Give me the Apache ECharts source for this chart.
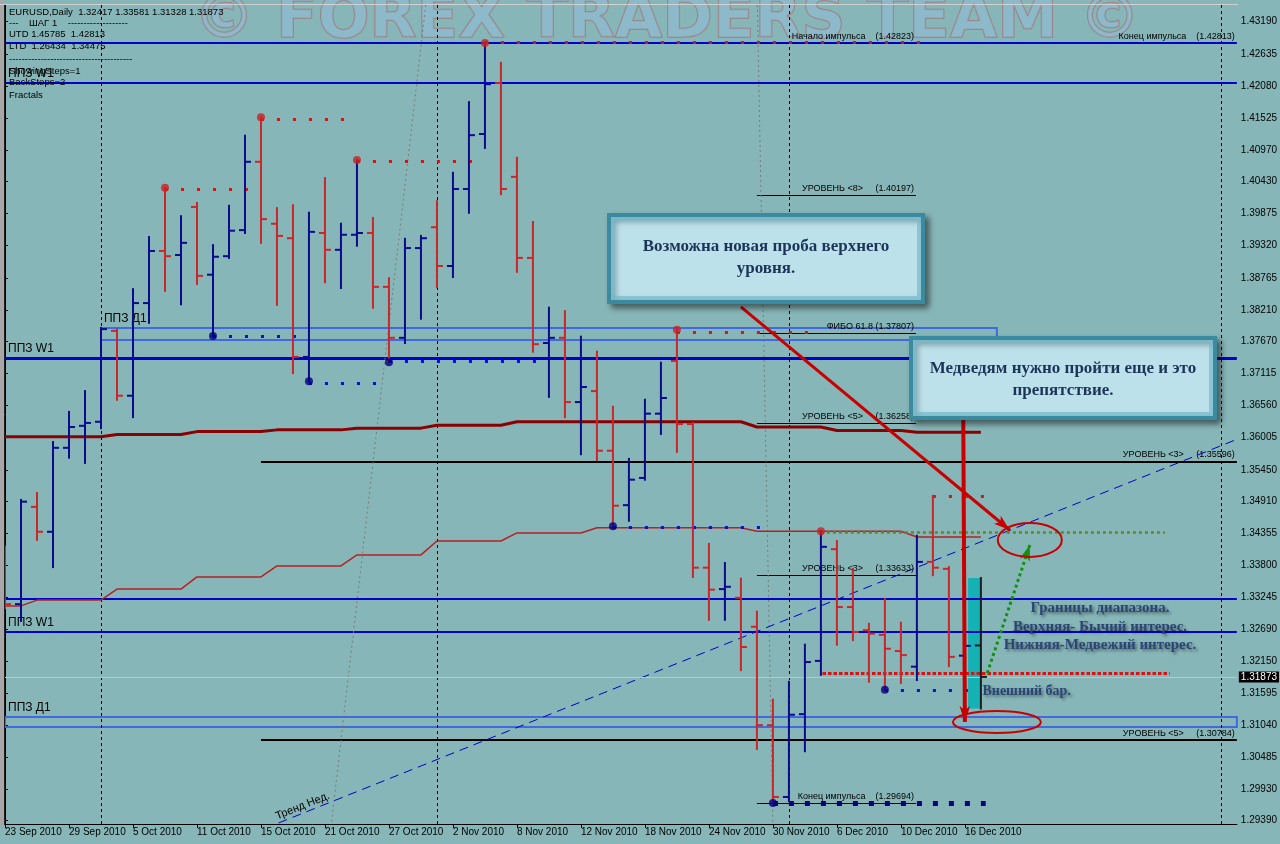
<!DOCTYPE html>
<html><head><meta charset="utf-8">
<script src="https://cdn.jsdelivr.net/npm/echarts@6/dist/echarts.min.js"></script>
<style>html,body{margin:0;padding:0;background:#87b6b8}#c{width:1280px;height:844px}</style>
</head><body><div id="c"></div>
<script>
// ---------- data ----------
const dates = ['23 Sep','24 Sep','27 Sep','28 Sep','29 Sep','30 Sep','1 Oct','4 Oct','5 Oct','6 Oct','7 Oct','8 Oct','11 Oct','12 Oct','13 Oct','14 Oct','15 Oct','18 Oct','19 Oct','20 Oct','21 Oct','22 Oct','25 Oct','26 Oct','27 Oct','28 Oct','29 Oct','1 Nov','2 Nov','3 Nov','4 Nov','5 Nov','8 Nov','9 Nov','10 Nov','11 Nov','12 Nov','15 Nov','16 Nov','17 Nov','18 Nov','19 Nov','22 Nov','23 Nov','24 Nov','25 Nov','26 Nov','29 Nov','30 Nov','1 Dec','2 Dec','3 Dec','6 Dec','7 Dec','8 Dec','9 Dec','10 Dec','13 Dec','14 Dec','15 Dec','16 Dec','17 Dec'];
const openP = [1.3389,1.3313,1.3481,1.3438,1.3583,1.3621,1.3628,1.3785,1.3673,1.3833,
  1.3923,1.3916,1.3999,1.3882,1.3914,1.3959,1.4077,1.3970,1.3945,1.3740,
  1.3954,1.3925,1.3951,1.3954,1.3861,1.3773,1.3928,1.3964,1.3897,1.4030,
  1.4125,1.4213,1.4051,1.3911,1.3764,1.3773,1.3662,1.3681,1.3578,1.3484,
  1.3531,1.3642,1.3733,1.3624,1.3376,1.3339,1.3324,1.3274,1.3104,1.2980,
  1.3123,1.3215,1.3408,1.3308,1.3268,1.3260,1.3232,1.3205,1.3386,1.3374,
  1.3224,1.32417];
const highP = [1.3412,1.3493,1.3505,1.3593,1.3645,1.3681,1.3790,1.3787,1.3857,1.3947,
  1.4032,1.3983,1.4006,1.3933,1.4001,1.4122,1.4154,1.3997,1.4002,1.3989,
  1.4049,1.3970,1.4080,1.3980,1.3876,1.3944,1.3949,1.4009,1.4058,1.4180,
  1.4282,1.4248,1.4084,1.3973,1.3825,1.3819,1.3775,1.3749,1.3654,1.3564,
  1.3666,1.3730,1.3787,1.3626,1.3417,1.3384,1.3357,1.3300,1.3148,1.3179,
  1.3243,1.3439,1.3422,1.3374,1.3279,1.3322,1.3281,1.3431,1.3500,1.3377,
  1.3265,1.33581];
const lowP = [1.3306,1.3284,1.3424,1.3377,1.3566,1.3557,1.3617,1.3666,1.3636,1.3799,
  1.3854,1.3831,1.3866,1.3776,1.3911,1.3954,1.3937,1.3830,1.3712,1.3698,
  1.3869,1.3859,1.3932,1.3825,1.3731,1.3764,1.3806,1.3861,1.3878,1.3989,
  1.4101,1.4021,1.3887,1.3749,1.3671,1.3636,1.3572,1.3562,1.34475,1.3457,
  1.3528,1.3607,1.3576,1.3360,1.3286,1.3286,1.3199,1.3063,1.29694,1.2973,
  1.3059,1.3191,1.3243,1.3251,1.3179,1.3165,1.3177,1.3182,1.3363,1.3206,
  1.3182,1.31328];
const closeP = [1.3313,1.3490,1.3438,1.3583,1.3619,1.3626,1.3788,1.3673,1.3833,1.3923,
  1.3914,1.3937,1.3880,1.3913,1.3958,1.4077,1.3978,1.3949,1.3740,1.3956,
  1.3925,1.3951,1.3954,1.3861,1.3773,1.3928,1.3945,1.3897,1.4030,1.4123,
  1.4211,1.4030,1.3911,1.3762,1.3773,1.3662,1.3688,1.3578,1.3483,1.3528,
  1.3642,1.3669,1.3624,1.3376,1.3338,1.3343,1.3239,1.3104,1.2980,1.3122,
  1.3213,1.3412,1.3308,1.3265,1.3262,1.3236,1.3225,1.3386,1.3376,1.3222,
  1.3241,1.31873];
// dark red (upper) and red (lower) indicator lines
const ppzUpper = [1.3602,1.3602,1.3602,1.3602,1.3602,1.3602,1.3602,1.3606,1.3606,1.3606,
  1.3606,1.3606,1.3611,1.3611,1.3611,1.3611,1.3611,1.3614,1.3614,1.3614,
  1.3614,1.3614,1.3617,1.3617,1.3617,1.3617,1.3617,1.3622,1.3622,1.3622,
  1.3622,1.3622,1.3628,1.3628,1.3628,1.3628,1.3628,1.3628,1.3628,1.3628,
  1.3628,1.3628,1.3628,1.3628,1.3628,1.3628,1.3628,1.3619,1.3619,1.3619,
  1.3619,1.3619,1.3613,1.3613,1.3613,1.3613,1.3613,1.3610,1.3610,1.3610,
  1.3610,1.3610];
const ppzLower = [1.3310,1.3310,1.3320,1.3320,1.3320,1.3320,1.3320,1.3339,1.3339,1.3339,
  1.3339,1.3339,1.3360,1.3360,1.3360,1.3360,1.3360,1.3379,1.3379,1.3379,
  1.3379,1.3379,1.3398,1.3398,1.3398,1.3398,1.3398,1.3422,1.3422,1.3422,
  1.3422,1.3422,1.3436,1.3436,1.3436,1.3436,1.3436,1.3445,1.3445,1.3445,
  1.3445,1.3445,1.3445,1.3445,1.3445,1.3445,1.3445,1.3439,1.3439,1.3439,
  1.3439,1.3439,1.3439,1.3439,1.3439,1.3439,1.3439,1.3429,1.3429,1.3429,
  1.3429,1.3429];
const fractalHighIdx = [10,16,22,30,42,51];
const fractalLowIdx = [13,19,24,38,48,55];
// [startIndex, endIndex, price]
const redFractalLines = [[10,15,1.4030],[16,21,1.4151],[22,29,1.4078],[30,57,1.42840],[42,50,1.3783],[58,61,1.3500]];
const blueFractalLines = [[13,18,1.3776],[19,23,1.3695],[24,33,1.3733],[38,47,1.3446],[55,60,1.3164]];
const impulseEndLine = [48,61,1.29694];
const oldRedLine = [0,29,1.3334];
const rangeRedLine = [51.1,72.8,1.3194];
const greenFractalLine = [51,72.5,1.3437];
const blueLevels = [1.42823,1.42131,1.37382,1.33230,1.32650];
const shortLevels = [
  [1.42823,'Начало импульса    (1.42823)'],
  [1.40197,'УРОВЕНЬ <8>     (1.40197)'],
  [1.37807,'ФИБО 61.8 (1.37807)'],
  [1.36258,'УРОВЕНЬ <5>     (1.36258)'],
  [1.33633,'УРОВЕНЬ <3>     (1.33633)'],
  [1.29694,'Конец импульса    (1.29694)']
];
const longLevels = [[1.35596,'УРОВЕНЬ <3>     (1.35596)'],[1.30784,'УРОВЕНЬ <5>     (1.30784)']];
const ppzD1Upper = [6,62,1.37900,1.37693];
const ppzD1Lower = [0,77,1.31182,1.31009];
const outsideBarBox = [60.2,60.95,1.33581,1.31328];
const trendLine = [17.1,1.29351,77,1.35976];
const lastPrice = 1.31873;
const vLines = [6,27,49,76];
const yTicks = [1.43190,1.42635,1.42080,1.41525,1.40970,1.40430,1.39875,1.39320,1.38765,1.38210,1.37670,1.37115,1.36560,1.36005,1.35450,1.34910,1.34355,1.33800,1.33245,1.32690,1.32150,1.31595,1.31040,1.30485,1.29930,1.29390];
const xTickIdx = [0,4,8,12,16,20,24,28,32,36,40,44,48,52,56,60];
const xTickLabels = ['23 Sep 2010','29 Sep 2010','5 Oct 2010','11 Oct 2010','15 Oct 2010','21 Oct 2010','27 Oct 2010','2 Nov 2010','8 Nov 2010','12 Nov 2010','18 Nov 2010','24 Nov 2010','30 Nov 2010','6 Dec 2010','10 Dec 2010','16 Dec 2010'];
const infoLines = ['EURUSD,Daily  1.32417 1.33581 1.31328 1.31873','---    ШАГ 1    -------------------','UTD 1.45785  1.42813','LTD  1.26434  1.34475','---------------------------------------','ShowingSteps=1','BackSteps=2','Fractals'];

// ---------- chart ----------
const chart = echarts.init(document.getElementById('c'));
const BULL='#0b0b8c', BEAR='#c8282a', LAST='#1c1c1c';
const ohlc = dates.map((d,i)=>[i,openP[i],closeP[i],lowP[i],highP[i]]);
const FONT='Liberation Sans';

function hl(a,b,p,style,label){ // horizontal segment
  const s={coord:[a,p], lineStyle:style};
  if(label) s.label=label;
  return [s,{coord:[b,p]}];
}
const lvlLabel = (t)=>({show:true,position:'insideEndTop',formatter:t,fontSize:9,fontFamily:FONT,color:'#000',distance:2});
const ppzLabel = (t)=>({show:true,position:'insideStartTop',formatter:t,fontSize:12,fontFamily:FONT,color:'#000',distance:3});

const bgLines = [];
blueLevels.forEach((p,k)=>{
  let lab=null;
  if(k===0) lab={show:true,position:'insideEndTop',formatter:'Конец импульса    (1.42813)',fontSize:9,fontFamily:FONT,color:'#000',distance:2};
  if(k===1||k===2||k===4) lab=ppzLabel('ППЗ W1');
  bgLines.push(hl(0,77,p,{color:'#0000cd',width:k===2?3:2,type:'solid'},lab));
});
bgLines.push(hl(ppzD1Upper[0],ppzD1Upper[1],ppzD1Upper[2],{color:'#4169e1',width:2,type:'solid'},ppzLabel('ППЗ Д1')));
bgLines.push(hl(ppzD1Lower[0],ppzD1Lower[1],ppzD1Lower[2],{color:'#4169e1',width:2,type:'solid'},ppzLabel('ППЗ Д1')));
longLevels.forEach(([p,t])=>bgLines.push(hl(16,77,p,{color:'#000',width:2,type:'solid'},lvlLabel(t))));
shortLevels.forEach(([p,t])=>bgLines.push(hl(47,56.94,p,{color:'#000',width:1,type:'solid'},lvlLabel(t))));
vLines.forEach(v=>bgLines.push([{coord:[v,1.43478],lineStyle:{color:'#000',width:1,type:[3,3]}},{coord:[v,1.29333]}]));
// slanted grey dotted lines and weekly trend
bgLines.push([{coord:[26.3,1.43478],lineStyle:{color:'#7a7a7a',width:1,type:[2,3]}},{coord:[20.4,1.29333]}]);
bgLines.push([{coord:[47.03,1.43478],lineStyle:{color:'#7a7a7a',width:1,type:[2,3]}},{coord:[48.0,1.29333]}]);
bgLines.push([{coord:[trendLine[0],trendLine[1]],lineStyle:{color:'#0000cd',width:1,type:[9,6]}},{coord:[trendLine[2],trendLine[3]]}]);
// current price
bgLines.push([{coord:[0,lastPrice],lineStyle:{color:'#c4c4c4',width:1,type:'solid'},
  label:{show:true,position:'end',formatter:'1.31873',backgroundColor:'#000',color:'#fff',fontSize:10,fontFamily:FONT,padding:[1,2,0,2],distance:2}},{coord:[77,lastPrice]}]);

const dotLines = [];
redFractalLines.forEach(([a,b,p])=>dotLines.push(hl(a,b+0.2,p,{color:'#e01010',width:3,type:[3,13],cap:'butt'})));
blueFractalLines.forEach(([a,b,p])=>dotLines.push(hl(a,b+0.2,p,{color:'#0a0af0',width:3,type:[3,13],cap:'butt'})));
dotLines.push(hl(impulseEndLine[0],impulseEndLine[1]+0.3,impulseEndLine[2],{color:'#000080',width:5,type:[5,11],cap:'butt'}));
dotLines.push(hl(oldRedLine[0]-0.16,oldRedLine[1]+0.3,oldRedLine[2],{color:'#b82424',width:5,type:[5,11],cap:'butt'}));
dotLines.push(hl(rangeRedLine[0],rangeRedLine[1],rangeRedLine[2],{color:'#dd1111',width:3,type:[3.5,2],cap:'butt'}));
dotLines.push(hl(greenFractalLine[0],greenFractalLine[1],greenFractalLine[2],{color:'#5d8a25',width:2.5,type:[3,3],cap:'butt'}));

const arrows = [
  [{coord:[46.0,1.38263],lineStyle:{color:'#c80000',width:3,type:'solid'},symbolSize:[0,12]},{coord:[62.8,1.34411]}],
  [{coord:[59.9,1.36311],lineStyle:{color:'#c80000',width:4,type:'solid'},symbolSize:[0,16]},{coord:[60.0,1.31095]}],
  [{coord:[61.4,1.31941],lineStyle:{color:'#129012',width:3,type:[3,3]},symbolSize:[0,9]},{coord:[64.06,1.34152]}]
];

const option = {
  animation:false,
  backgroundColor:'#87b6b8',
  grid:{left:5,right:43,top:5,bottom:20,containLabel:false},
  xAxis:{type:'value',min:0,max:77,
    axisLine:{show:true,lineStyle:{color:'#000',width:1}},
    axisTick:{show:true,customValues:xTickIdx,length:4,lineStyle:{color:'#000'}},
    axisLabel:{show:true,customValues:xTickIdx,formatter:(v)=>xTickLabels[xTickIdx.indexOf(Math.round(v))]||'',align:'left',fontSize:10,fontFamily:FONT,color:'#000',margin:3},
    splitLine:{show:false}},
  yAxis:{type:'value',position:'right',min:1.29333,max:1.43478,scale:true,
    axisLine:{show:true,lineStyle:{color:'#000',width:1}},
    axisTick:{show:true,customValues:yTicks,length:3,lineStyle:{color:'#000'}},
    axisLabel:{show:true,customValues:yTicks,formatter:(v)=>v.toFixed(5),fontSize:10,fontFamily:FONT,color:'#000',margin:4},
    splitLine:{show:false}},
  series:[
    {type:'line',data:[],silent:true,
      markArea:{silent:true,z:1,data:[
        [{coord:[ppzD1Upper[0],ppzD1Upper[2]],itemStyle:{color:'rgba(0,0,0,0)',borderColor:'#4169e1',borderWidth:2}},{coord:[ppzD1Upper[1],ppzD1Upper[3]]}],
        [{coord:[ppzD1Lower[0],ppzD1Lower[2]],itemStyle:{color:'rgba(0,0,0,0)',borderColor:'#4169e1',borderWidth:2}},{coord:[ppzD1Lower[1],ppzD1Lower[3]]}],
        [{coord:[outsideBarBox[0],outsideBarBox[2]],itemStyle:{color:'#14b2b4',borderWidth:0}},{coord:[outsideBarBox[1],outsideBarBox[3]]}]
      ]},
      markLine:{silent:true,z:1,symbol:'none',label:{show:false},emphasis:{disabled:true},data:bgLines}},
    {type:'line',data:ppzUpper.map((v,i)=>[i,v]),showSymbol:false,silent:true,z:2,lineStyle:{color:'#8b0000',width:3}},
    {type:'line',data:ppzLower.map((v,i)=>[i,v]),showSymbol:false,silent:true,z:2,lineStyle:{color:'#b52222',width:1.5}},
    {type:'line',data:[],silent:true,
      markLine:{silent:true,z:3,symbol:'none',label:{show:false},data:dotLines}},
    {type:'custom',z:5,silent:true,data:ohlc,encode:{x:0,y:[1,2,3,4]},clip:true,
      renderItem:(params,api)=>{
        const i=api.value(0),o=api.value(1),c=api.value(2),l=api.value(3),h=api.value(4);
        const pH=api.coord([i,h]),pL=api.coord([i,l]),pO=api.coord([i,o]),pC=api.coord([i,c]);
        const col = params.dataIndex===dates.length-1?LAST:(c>=o?BULL:BEAR);
        const st={stroke:col,lineWidth:2};
        return {type:'group',children:[
          {type:'line',shape:{x1:pH[0],y1:pH[1]-1,x2:pL[0],y2:pL[1]+1},style:st},
          {type:'line',shape:{x1:pO[0]-6,y1:pO[1],x2:pO[0],y2:pO[1]},style:st},
          {type:'line',shape:{x1:pC[0],y1:pC[1],x2:pC[0]+6,y2:pC[1]},style:st}
        ]};
      }},
    {type:'scatter',z:6,silent:true,symbol:'circle',symbolSize:8,itemStyle:{color:'#cc2222'},
      data:fractalHighIdx.map(i=>[i,highP[i]])},
    {type:'scatter',z:6,silent:true,symbol:'circle',symbolSize:8,itemStyle:{color:'#000080'},
      data:fractalLowIdx.map(i=>[i,lowP[i]])},
    {type:'line',data:[],silent:true,
      markLine:{silent:true,z:8,symbol:['none','arrow'],label:{show:false},data:arrows}}
  ]
};
chart.setOption(option);

const px=(i,p)=>chart.convertToPixel({gridIndex:0},[i,p]);
const g=[];
// window border
g.push({type:'rect',shape:{x:0,y:0,width:3,height:826},style:{fill:'#a7a7a7'},z:50,silent:true});
g.push({type:'line',shape:{x1:4.5,y1:4,x2:4.5,y2:825},style:{stroke:'#202020',lineWidth:1},z:50,silent:true});
g.push({type:'line',shape:{x1:0,y1:4.5,x2:1238,y2:4.5},style:{stroke:'#d0d0d0',lineWidth:1},z:50,silent:true});
// watermark
g.push({type:'text',z:0,silent:true,style:{text:'© FOREX TRADERS TEAM ©',x:667,y:21,align:'center',verticalAlign:'middle',textAlign:'center',textVerticalAlign:'middle',
  font:'bold 61px "DejaVu Sans"',fill:'rgba(145,188,214,0.6)',stroke:'rgba(175,80,80,0.55)',lineWidth:1.5}});
// info block
infoLines.forEach((t,k)=>{
  const ys=[12.5,23,34.5,46.5,59,71,82.5,95];
  g.push({type:'text',z:40,silent:true,style:{text:t,x:9,y:ys[k],verticalAlign:'middle',textVerticalAlign:'middle',font:'9.5px "Liberation Sans"',fill:'#000'}});
});
// trend label
const tp=px(18.6,1.29644);
g.push({type:'text',z:40,silent:true,x:tp[0],y:tp[1],rotation:0.38,style:{text:'Тренд Нед.',x:0,y:0,align:'center',verticalAlign:'middle',textAlign:'center',textVerticalAlign:'middle',font:'11px "Liberation Sans"',fill:'#000'}});
// ellipses
const e1=px(64.06,1.34239), e2=px(62.0,1.31095);
g.push({type:'ellipse',z:60,silent:true,shape:{cx:e1[0],cy:e1[1],rx:32,ry:17},style:{fill:null,stroke:'#c80000',lineWidth:2}});
g.push({type:'ellipse',z:60,silent:true,shape:{cx:e2[0],cy:e2[1],rx:44,ry:11},style:{fill:null,stroke:'#c80000',lineWidth:2}});
// callouts
function callout(x,y,w,h,text,cy){
  g.push({type:'rect',z:90,silent:true,shape:{x:x,y:y,width:w,height:h},
    style:{fill:new echarts.graphic.LinearGradient(0,0,0,1,[{offset:0,color:'#a9d4e0'},{offset:0.12,color:'#bde1eb'},{offset:0.88,color:'#bde1eb'},{offset:1,color:'#a3d0dd'}]),
      stroke:'#3a8aa0',lineWidth:4,shadowBlur:6,shadowOffsetX:4,shadowOffsetY:4,shadowColor:'rgba(0,0,0,0.45)'}});
  g.push({type:'rect',z:91,silent:true,shape:{x:x+4,y:y+4,width:w-8,height:h-8},
    style:{fill:null,stroke:'rgba(120,185,203,0.7)',lineWidth:4}});
  g.push({type:'text',z:92,silent:true,style:{text:text,x:x+w/2,y:cy,align:'center',verticalAlign:'middle',textAlign:'center',textVerticalAlign:'middle',
    font:'bold 17px "Liberation Serif"',fill:'#1b3558',lineHeight:22}});
}
callout(609,215,314,87,'Возможна новая проба верхнего\nуровня.',258);
callout(911,338,304,80,'Медведям нужно пройти еще и это\nпрепятствие.',380);
// range text
g.push({type:'text',z:70,silent:true,style:{text:'Границы диапазона.\nВерхняя- Бычий интерес.\nНижняя-Медвежий интерес.',x:1100,y:627,align:'center',verticalAlign:'middle',textAlign:'center',textVerticalAlign:'middle',
  font:'bold 15px "Liberation Serif"',fill:'#2b4676',lineHeight:18.5,textShadowColor:'rgba(0,0,0,0.45)',textShadowBlur:3,textShadowOffsetX:2,textShadowOffsetY:2}});
const ob=px(61.1,1.31630);
g.push({type:'text',z:70,silent:true,style:{text:'Внешний бар.',x:ob[0],y:ob[1],verticalAlign:'middle',textVerticalAlign:'middle',
  font:'bold 14px "Liberation Serif"',fill:'#2b4676',textShadowColor:'rgba(0,0,0,0.4)',textShadowBlur:3,textShadowOffsetX:2,textShadowOffsetY:2}});
chart.setOption({graphic:{elements:g}});
</script>
</body></html>
